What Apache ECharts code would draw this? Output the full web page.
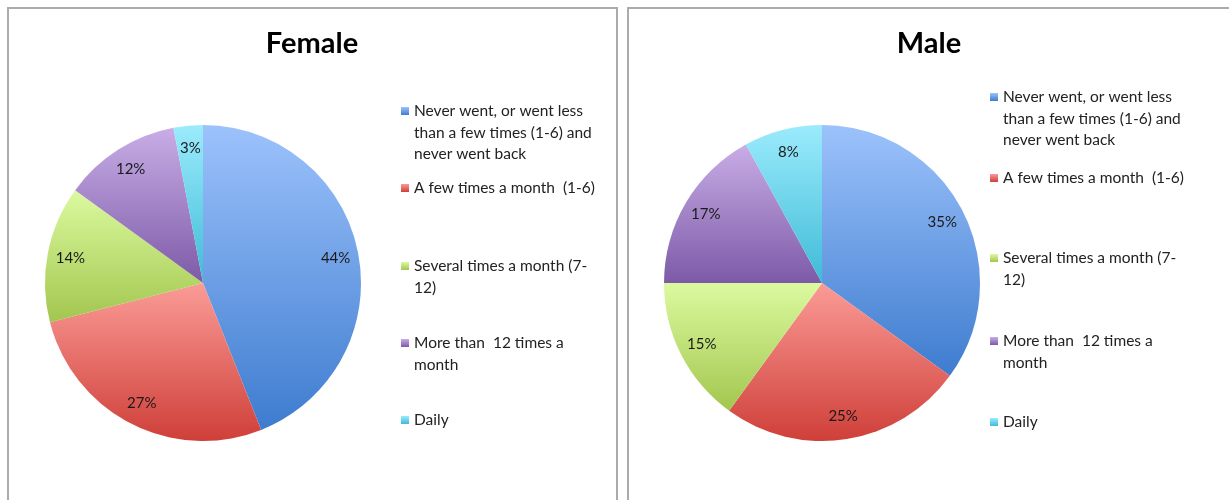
<!DOCTYPE html>
<html>
<head>
<meta charset="utf-8">
<script src="https://cdn.jsdelivr.net/npm/echarts@6/dist/echarts.min.js"></script>
<style>
  html, body {
    margin: 0;
    padding: 0;
    width: 1229px;
    height: 500px;
    overflow: hidden;
    background: #fff;
  }
  .panel {
    position: absolute;
    top: 7px;
    height: 500px;
    border: 2px solid #ababab;
    border-bottom: none;
  }
  #female {
    left: 7px;
    width: 607px;
  }
  #male {
    left: 627px;
    width: 610px;
    border-right: none;
  }
</style>
</head>
<body>
<div id="female" class="panel"></div>
<div id="male" class="panel"></div>
<script>
// categories as shown in the legend
const categories = [
  'Never went, or went less than a few times (1-6) and never went back',
  'A few times a month  (1-6)',
  'Several times a month (7-12)',
  'More than  12 times a month',
  'Daily'
]
// legend text wrapped the same way as the picture
const legendLines = [
  ['Never went, or went less', 'than a few times (1-6) and', 'never went back'],
  ['A few times a month  (1-6)'],
  ['Several times a month (7-', '12)'],
  ['More than  12 times a', 'month'],
  ['Daily']
]
const femaleValues = [44, 27, 14, 12, 3]
const maleValues = [35, 25, 15, 17, 8]

// excel-ish gradients, top -> bottom of each slice
const colorTop = ['#9cc2fb', '#fb9b96', '#dbfa9f', '#c8ade6', '#9bebfc']
const colorBottom = ['#3e7ccf', '#cf3f39', '#a2c64f', '#7d5aa7', '#3fbbd7']

const fontFamily = 'Lato, "Open Sans", sans-serif'
const lineH = 21.5

function makeOption(title, values, titleX, center, legendLeft, legendTops) {
  const data = categories.map((name, i) => ({
    name: name,
    value: values[i],
    itemStyle: {
      color: new echarts.graphic.LinearGradient(0, 0, 0, 1, [
        { offset: 0, color: colorTop[i] },
        { offset: 1, color: colorBottom[i] }
      ])
    }
  }))
  const legends = categories.map((name, i) => {
    const n = legendLines[i].length
    // blank lines on top so the icon sits on the first text line
    const blank = new Array(n - 1).fill(' ')
    return {
      data: [name],
      orient: 'vertical',
      left: legendLeft,
      top: legendTops[i] - (2 * n - 1) * lineH / 2,
      padding: 0,
      itemWidth: 8,
      itemHeight: 8,
      icon: 'rect',
      selectedMode: false,
      formatter: () => blank.concat(legendLines[i]).join('\n'),
      textStyle: {
        fontFamily: fontFamily,
        fontSize: 15.5,
        color: '#222',
        lineHeight: lineH
      }
    }
  })
  return {
    animation: false,
    title: {
      text: title,
      left: titleX,
      top: 20,
      padding: 0,
      textAlign: 'center',
      textStyle: {
        fontFamily: fontFamily,
        fontSize: 29,
        fontWeight: 'bold',
        color: '#000'
      }
    },
    legend: legends,
    series: [
      {
        type: 'pie',
        center: center,
        radius: 158,
        startAngle: 90,
        clockwise: true,
        silent: true,
        label: { show: false },
        labelLine: { show: false },
        itemStyle: { borderWidth: 0 },
        emphasis: { disabled: true },
        data: data
      },
      {
        // transparent ring, only used to place the percentage labels near the rim
        type: 'pie',
        center: center,
        radius: [106, 158],
        startAngle: 90,
        clockwise: true,
        silent: true,
        itemStyle: { color: 'transparent', borderWidth: 0 },
        label: {
          show: true,
          position: 'inside',
          formatter: '{c}%',
          fontFamily: fontFamily,
          fontSize: 15,
          color: '#1a1a1a'
        },
        labelLine: { show: false },
        emphasis: { disabled: true },
        data: categories.map((name, i) => ({ name: name, value: values[i] }))
      }
    ]
  }
}

const femaleChart = echarts.init(document.getElementById('female'), null, { renderer: 'canvas' })
femaleChart.setOption(makeOption('Female', femaleValues, 303, [194, 274], 392, [102, 179, 257, 334, 411]))

const maleChart = echarts.init(document.getElementById('male'), null, { renderer: 'canvas' })
maleChart.setOption(makeOption('Male', maleValues, 300, [193, 274], 361, [88, 169, 249, 332, 413]))
</script>
</body>
</html>
